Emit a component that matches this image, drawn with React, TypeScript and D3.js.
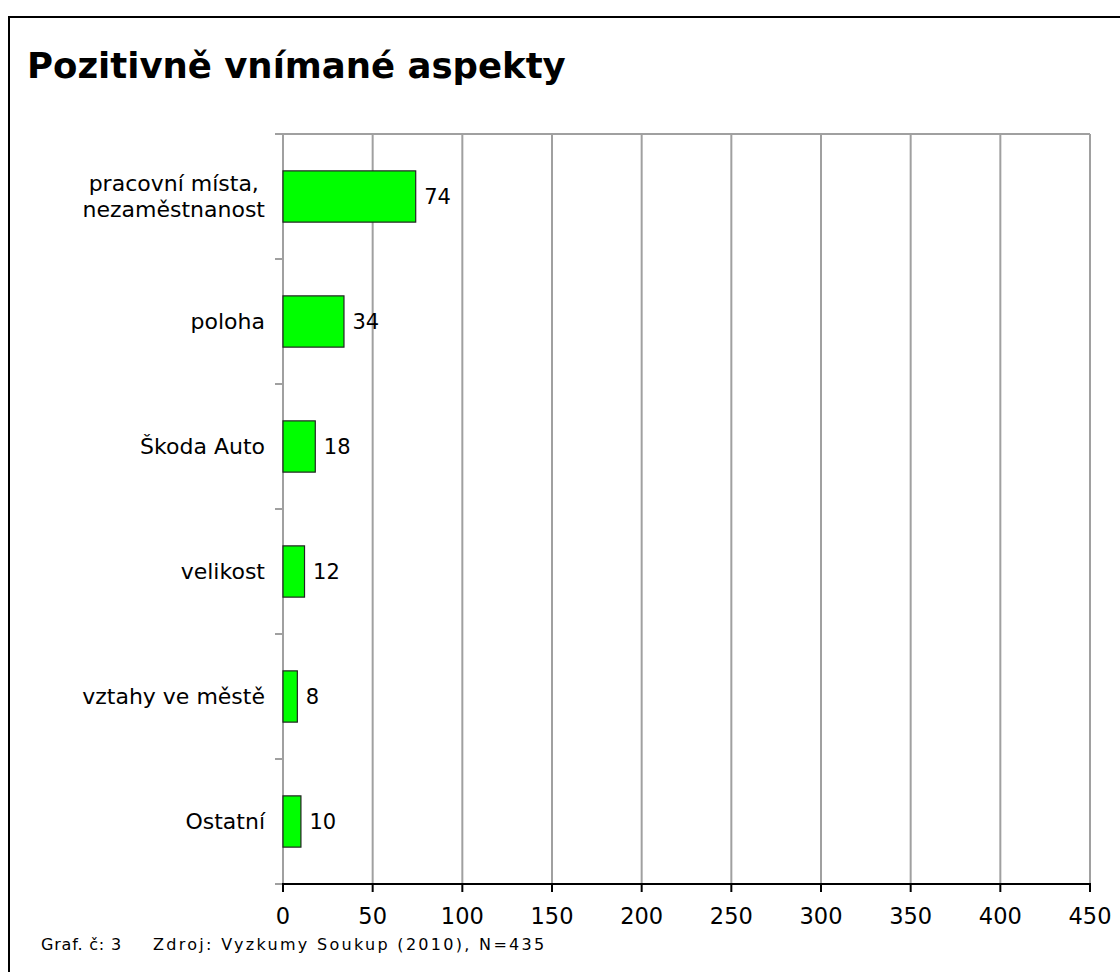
import React from "react";
import * as d3 from "d3";

const categories = ["pracovní místa,\nnezaměstnanost", "poloha", "Škoda Auto", "velikost", "vztahy ve městě", "Ostatní"];
const values = [74, 34, 18, 12, 8, 10];
const xTicks = [0, 50, 100, 150, 200, 250, 300, 350, 400, 450];
const title = "Pozitivně vnímané aspekty";
const footerA = "Graf. č: 3";
const footerB = "Zdroj: Vyzkumy Soukup (2010), N=435";

const W = 1120;
const H = 972;
const left = 283;
const right = 1090;
const top = 134;
const bottom = 884;
const font = "'DejaVu Sans', Verdana, sans-serif";
const catSize = 22;

function measure(text: string, size: number): number {
  const c = document.createElement("canvas").getContext("2d");
  if (!c) return text.length * size * 0.6;
  c.font = `${size}px 'DejaVu Sans'`;
  return c.measureText(text).width;
}

export default function App() {
  const x = d3.scaleLinear().domain([0, 450]).range([left, right]);
  const y = d3.scaleBand<string>().domain(categories).range([top, bottom]).paddingInner(0.59).paddingOuter(0.295);
  const step = (bottom - top) / categories.length;
  const sep = d3.range(categories.length + 1).map((i) => top + i * step);
  const labelRight = 265;

  return (
    <svg width={W} height={H} style={{ position: "absolute", left: 0, top: 0, display: "block" }} fontFamily={font}>
      <rect x={0} y={0} width={W} height={H} fill="#fff" />
      <rect x={9} y={17} width={W + 20} height={H + 20} fill="none" stroke="#000" strokeWidth={2} />
      <text x={27} y={78} fontSize={35.5} fontWeight="bold" fill="#000">{title}</text>

      {/* gridlines */}
      {xTicks.map((t) => (
        <line key={"g" + t} x1={x(t)} x2={x(t)} y1={top} y2={bottom} stroke="#a0a0a0" strokeWidth={2} />
      ))}
      <line x1={left} x2={right} y1={top} y2={top} stroke="#a0a0a0" strokeWidth={2} />
      {/* left axis ticks */}
      {sep.map((s, i) => (
        <line key={"s" + i} x1={left - 8} x2={left} y1={s} y2={s} stroke="#a0a0a0" strokeWidth={2} />
      ))}

      {/* bars */}
      {categories.map((c, i) => (
        <rect key={"b" + i} x={x(0)} y={y(c)!} width={x(values[i]) - x(0)} height={y.bandwidth()} fill="#00ff00" stroke="#222" strokeWidth={1.2} />
      ))}
      {categories.map((c, i) => (
        <text key={"v" + i} x={x(values[i]) + 8.5} y={y(c)! + y.bandwidth() / 2} dy="0.36em" fontSize={21} fill="#000">{values[i]}</text>
      ))}

      {/* category labels */}
      {categories.map((c, i) => {
        const lines = c.split("\n");
        const cy = y(c)! + y.bandwidth() / 2;
        const lh = 26;
        if (lines.length === 1) {
          return (
            <text key={"c" + i} x={labelRight} y={cy} dy="0.36em" textAnchor="end" fontSize={catSize} fill="#000">{c}</text>
          );
        }
        const maxW = Math.max(...lines.map((l) => measure(l, catSize)));
        const cx = labelRight - maxW / 2;
        return (
          <text key={"c" + i} textAnchor="middle" fontSize={catSize} fill="#000">
            {lines.map((l, j) => (
              <tspan key={j} x={cx} y={cy + (j - (lines.length - 1) / 2) * lh} dy="0.36em">{l}</tspan>
            ))}
          </text>
        );
      })}

      {/* bottom axis */}
      <line x1={left - 1} x2={right + 1} y1={bottom} y2={bottom} stroke="#000" strokeWidth={2} />
      {xTicks.map((t) => (
        <g key={"t" + t}>
          <line x1={x(t)} x2={x(t)} y1={bottom} y2={bottom + 8} stroke="#000" strokeWidth={2} />
          <text x={x(t)} y={923.5} textAnchor="middle" fontSize={22.5} fill="#000">{t}</text>
        </g>
      ))}

      <text x={41} y={950} fontSize={16} fill="#000" letterSpacing={0.8}>{footerA}</text>
      <text x={153} y={950} fontSize={16} fill="#000" letterSpacing={2.3}>{footerB}</text>
    </svg>
  );
}
